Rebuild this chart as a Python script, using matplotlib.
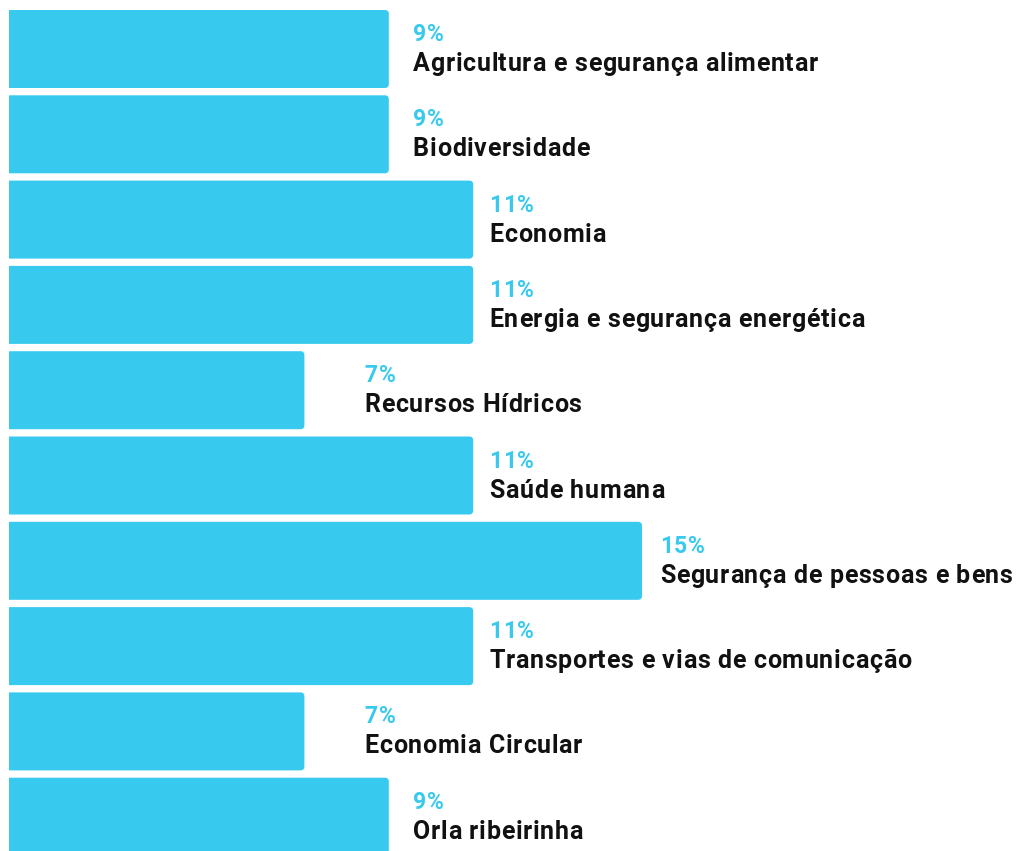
import matplotlib
matplotlib.use("Agg")
import matplotlib.pyplot as plt
from matplotlib.patches import FancyBboxPatch, Rectangle
from matplotlib.font_manager import FontProperties

# Share of each sector (%)
sectors = [
    "Agricultura e segurança alimentar",
    "Biodiversidade",
    "Economia",
    "Energia e segurança energética",
    "Recursos Hídricos",
    "Saúde humana",
    "Segurança de pessoas e bens",
    "Transportes e vias de comunicação",
    "Economia Circular",
    "Orla ribeirinha",
]
shares = [9, 9, 11, 11, 7, 11, 15, 11, 7, 9]

# gap in pixels between bar end and its label
label_gap = [24, 24, 16, 16, 60, 16, 18, 16, 60, 24]

bar_color = "#38C9EE"
px_per_unit_x = 42.2
px_per_row = 85.3

fig = plt.figure(figsize=(10.21, 8.51), dpi=100)
ax = fig.add_axes([0, 0, 1, 1])
ax.set_xlim(-9 / px_per_unit_x, (1021 - 9) / px_per_unit_x)
ax.set_ylim((851 - 49) / px_per_row, -49 / px_per_row)
ax.axis("off")

bar_h = 78 / px_per_row
bars = ax.barh(range(len(shares)), shares, height=bar_h, color=bar_color, alpha=0)

# rounded right corners; left side clipped square at x=0
r = 4 / px_per_unit_x
aspect = px_per_unit_x / px_per_row
clip = Rectangle((0, -5), 100, 100, transform=ax.transData)
for b in bars:
    x0, y0, w, h = b.get_x(), b.get_y(), b.get_width(), b.get_height()
    p = FancyBboxPatch((x0 - 3 * r, y0), w + 3 * r, h,
                       boxstyle=f"round,pad=0,rounding_size={r}",
                       mutation_aspect=aspect, fc=bar_color, ec="none")
    ax.add_patch(p)
    p.set_clip_path(clip)

renderer = fig.canvas.get_renderer()


def tracked(s, xy, dx, dy, track, size, color, weight="bold"):
    # draw text one glyph at a time with extra letter spacing
    fp = FontProperties(family="Roboto", weight=weight, size=size)
    bar_w, _, _ = renderer.get_text_width_height_descent("|", fp, ismath=False)
    for k, ch in enumerate(s):
        if ch == " ":
            continue
        w, _, _ = renderer.get_text_width_height_descent(s[:k] + "|", fp, ismath=False)
        pos = (w - bar_w) if k else 0
        ax.annotate(ch, xy, xytext=(dx + pos + k * track, dy),
                    textcoords="offset pixels", va="baseline", ha="left",
                    fontproperties=fp, color=color)


for i, (name, v) in enumerate(zip(sectors, shares)):
    gap = label_gap[i]
    tracked(f"{v}%", (v, i), gap, 8, 1.0, 16.5, bar_color)
    tracked(name, (v, i), gap, -22, 0.7, 18.0, "#111111")

fig.savefig("out.png", dpi=100, facecolor="white")
